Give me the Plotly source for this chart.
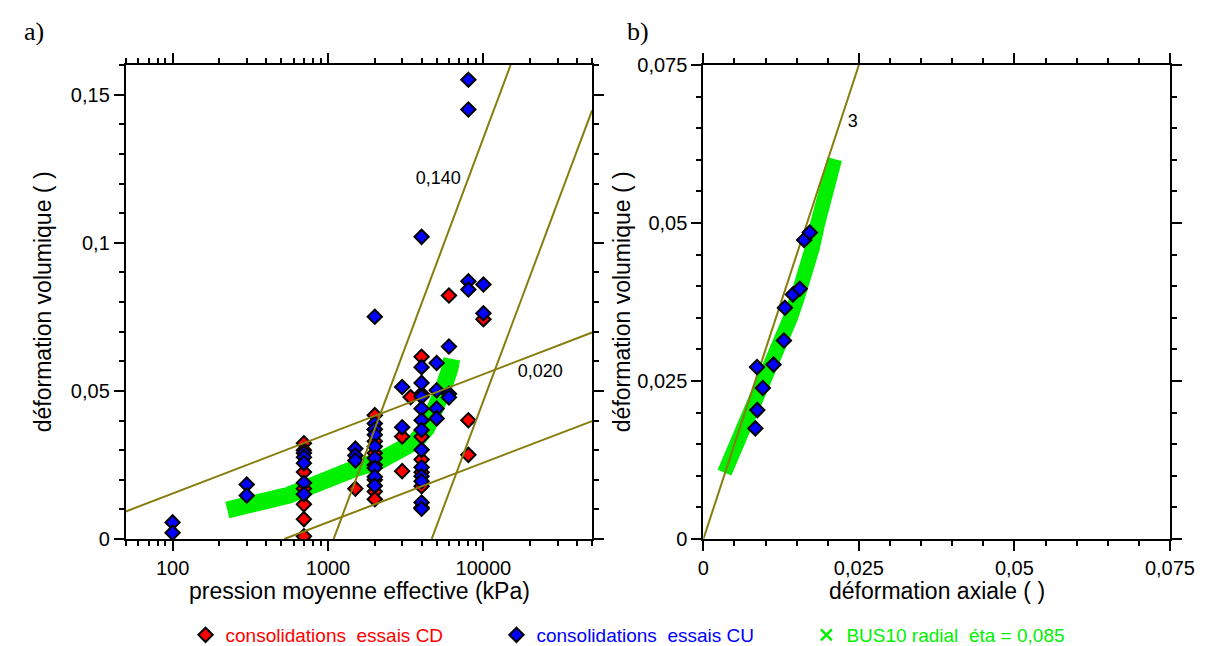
import plotly.graph_objects as go

W, H = 1223, 646
ML, MR, MT, MB = 0, 0, 57, 111
PW, PH = W - ML - MR, H - MT - MB

FONT = "Liberation Sans, Arial, sans-serif"
SERIF = "Liberation Serif, Times New Roman, serif"
RED, BLUE, GREEN, OLIVE = "#ff0000", "#0000ff", "#00f000", "#877d0e"

# ---------------- panel a) data ----------------
cd_p = [700, 700, 700, 700, 700, 700, 700,
        1500,
        2000, 2000, 2000, 2000, 2000, 2000, 2000, 2000,
        3000, 3000, 3400,
        4000, 4000, 4000, 4000, 4000, 4000, 4000,
        6000, 8000, 8000, 10000]
cd_ev = [0.0323, 0.0300, 0.0226, 0.0170, 0.0117, 0.0067, 0.0009,
         0.0170,
         0.0418, 0.0370, 0.0330, 0.0290, 0.0250, 0.0200, 0.0160, 0.0134,
         0.0346, 0.0229, 0.0479,
         0.0615, 0.0490, 0.0345, 0.0268, 0.0225, 0.0178, 0.0106,
         0.0822, 0.0401, 0.0284, 0.0742]

cu_p = [100, 100, 300, 300,
        700, 700, 700, 700, 700,
        1500, 1500, 1500,
        2000, 2000, 2000, 2000, 2000, 2000, 2000, 2000, 2000,
        3000, 3000,
        4000, 4000, 4000, 4000, 4000, 4000, 4000, 4000, 4000, 4000, 4000, 4000, 4000,
        5000, 5000, 5000, 5000,
        6000, 6000, 6000,
        8000, 8000, 8000, 8000,
        10000, 10000]
cu_ev = [0.0056, 0.0021, 0.0184, 0.0147,
         0.0290, 0.0276, 0.0256, 0.0190, 0.0151,
         0.0305, 0.0282, 0.0265,
         0.0750, 0.0390, 0.0370, 0.0352, 0.0312, 0.0273, 0.0240, 0.0210, 0.0180,
         0.0513, 0.0377,
         0.1020, 0.0580, 0.0527, 0.0480, 0.0440, 0.0401, 0.0368, 0.0301, 0.0242, 0.0212, 0.0195, 0.0123, 0.0102,
         0.0594, 0.0502, 0.0440, 0.0407,
         0.0650, 0.0490, 0.0478,
         0.155, 0.145, 0.0870, 0.0842,
         0.0859, 0.0762]

bus_p = [225, 280, 360, 452, 560, 730, 1047, 1460, 2150, 2900, 3640, 4320, 4840, 5420, 6080, 6250]
bus_ev = [0.0098, 0.0108, 0.0120, 0.0130, 0.0148, 0.0173, 0.0210, 0.0236, 0.0264, 0.0295,
          0.0329, 0.0374, 0.0429, 0.0496, 0.0574, 0.0608]

# guide lines (end points read on the frame)
lineA_p, lineA_ev = [1087, 14960], [0.0, 0.16]
lineB_p, lineB_ev = [4645, 50000], [0.0, 0.1447]
lineC_p, lineC_ev = [50, 50000], [0.0093, 0.0697]
lineD_p, lineD_ev = [523, 50000], [0.0, 0.0398]
lab_txt = ["0,140", "0,020"]
lab_p = [5130, 23200]
lab_ev = [0.1214, 0.0563]

# ---------------- panel b) data ----------------
cub_ea = [0.00836, 0.00867, 0.00956, 0.00862, 0.01128, 0.01295, 0.01311, 0.0144, 0.0155, 0.0162, 0.0171]
cub_ev = [0.0175, 0.0204, 0.0239, 0.0272, 0.0276, 0.0314, 0.0366, 0.0387, 0.0396, 0.0473, 0.0485]

busb_ea = [0.0034, 0.0044, 0.0054, 0.0070, 0.0082, 0.0093, 0.0104, 0.0116, 0.0128, 0.0140,
           0.0152, 0.0165, 0.0175, 0.0184, 0.0193, 0.0202, 0.0211]
busb_ev = [0.0105, 0.0127, 0.0149, 0.0186, 0.0212, 0.0237, 0.0264, 0.0290, 0.0317, 0.0350,
           0.0385, 0.0421, 0.0460, 0.0500, 0.0535, 0.0568, 0.0601]

line3_ea, line3_ev = [0.0, 0.025], [0.0, 0.075]
lab3_txt, lab3_ea, lab3_ev = "3", 0.0240, 0.0659

# ticks
xa_tickvals = [100, 1000, 10000]
xa_ticktext = ["100", "1000", "10000"]
xa_minor = [50, 60, 70, 80, 90, 200, 300, 400, 500, 600, 700, 800, 900,
            2000, 3000, 4000, 5000, 6000, 7000, 8000, 9000, 20000, 30000, 40000, 50000]
ya_tickvals = [0, 0.05, 0.1, 0.15]
ya_ticktext = ["0", "0,05", "0,1", "0,15"]
b_tickvals = [0, 0.025, 0.05, 0.075]
b_ticktext = ["0", "0,025", "0,05", "0,075"]


def px_x(x):
    return (x - ML) / PW


def px_y(y):
    return (H - MB - y) / PH


fig = go.Figure()

diamond = dict(symbol="diamond", size=11, line=dict(color="black", width=2))

# panel a
fig.add_trace(go.Scatter(x=bus_p, y=bus_ev, mode="lines", line=dict(color=GREEN, width=17),
                         showlegend=False, xaxis="x", yaxis="y"))
fig.add_trace(go.Scatter(x=cd_p, y=cd_ev, mode="markers", marker=dict(color=RED, **diamond),
                         name="consolidations\u00a0 essais CD", legend="legend", xaxis="x", yaxis="y"))
fig.add_trace(go.Scatter(x=cu_p, y=cu_ev, mode="markers", marker=dict(color=BLUE, **diamond),
                         name="consolidations\u00a0 essais CU", legend="legend2", xaxis="x", yaxis="y"))
for lp, le in [(lineA_p, lineA_ev), (lineB_p, lineB_ev), (lineC_p, lineC_ev), (lineD_p, lineD_ev)]:
    fig.add_trace(go.Scatter(x=lp, y=le, mode="lines", line=dict(color=OLIVE, width=2),
                             showlegend=False, xaxis="x", yaxis="y"))
fig.add_trace(go.Scatter(x=lab_p, y=lab_ev, mode="text", text=lab_txt,
                         textfont=dict(family=FONT, size=18, color="black"),
                         showlegend=False, xaxis="x", yaxis="y"))

# panel b
fig.add_trace(go.Scatter(x=busb_ea, y=busb_ev, mode="lines", line=dict(color=GREEN, width=15),
                         showlegend=False, xaxis="x2", yaxis="y2"))
fig.add_trace(go.Scatter(x=line3_ea, y=line3_ev, mode="lines", line=dict(color=OLIVE, width=2),
                         showlegend=False, xaxis="x2", yaxis="y2"))
fig.add_trace(go.Scatter(x=[lab3_ea], y=[lab3_ev], mode="text", text=[lab3_txt],
                         textfont=dict(family=FONT, size=18, color="black"),
                         showlegend=False, xaxis="x2", yaxis="y2"))
fig.add_trace(go.Scatter(x=cub_ea, y=cub_ev, mode="markers", marker=dict(color=BLUE, **diamond),
                         showlegend=False, xaxis="x2", yaxis="y2"))

# legend-only entry for the BUS10 band
fig.add_trace(go.Scatter(x=[None], y=[None], mode="markers",
                         marker=dict(symbol="x-thin", size=11, line=dict(color=GREEN, width=2.5)),
                         name="BUS10 radial\u00a0 éta = 0,085", legend="legend3", xaxis="x", yaxis="y"))

common = dict(showline=True, linecolor="black", linewidth=2, mirror="ticks", ticks="outside",
              ticklen=10, tickwidth=1.5, tickcolor="black", showgrid=False, zeroline=False,
              tickfont=dict(family=FONT, size=20, color="black"), tickmode="array")


def ann(text, x, y, size=23, family=FONT, angle=0):
    return dict(text=text, x=px_x(x), y=px_y(y), xref="paper", yref="paper", showarrow=False,
                xanchor="center", yanchor="middle", textangle=angle,
                font=dict(family=family, size=size, color="black"))


fig.update_layout(
    width=W, height=H,
    margin=dict(l=ML, r=MR, t=MT, b=MB),
    paper_bgcolor="white", plot_bgcolor="white",
    xaxis=dict(domain=[px_x(114.7), px_x(593.1)], type="log", range=[1.69897, 4.69897],
               tickvals=xa_tickvals, ticktext=xa_ticktext, anchor="y",
               minor=dict(ticks="outside", ticklen=5, tickwidth=1.5, tickcolor="black",
                          tickmode="array", tickvals=xa_minor, showgrid=False),
               **common),
    yaxis=dict(domain=[0, 1], range=[0, 0.16], tickvals=ya_tickvals, ticktext=ya_ticktext, anchor="x",
               minor=dict(ticks="outside", ticklen=5, tickwidth=1.5, tickcolor="black",
                          dtick=0.01, showgrid=False),
               **common),
    xaxis2=dict(domain=[px_x(707.3), px_x(1186)], range=[0, 0.075], tickvals=b_tickvals,
                ticktext=b_ticktext, anchor="y2",
                minor=dict(ticks="outside", ticklen=5, tickwidth=1.5, tickcolor="black",
                           dtick=0.005, showgrid=False),
                **common),
    yaxis2=dict(domain=[0, 1], range=[0, 0.075], tickvals=b_tickvals, ticktext=b_ticktext, anchor="x2",
                minor=dict(ticks="outside", ticklen=5, tickwidth=1.5, tickcolor="black",
                           dtick=0.005, showgrid=False),
                **common),
    legend=dict(x=px_x(176), y=px_y(632), xanchor="left", yanchor="middle", orientation="h",
                font=dict(family=FONT, size=19, color=RED), bgcolor="rgba(0,0,0,0)", itemwidth=30),
    legend2=dict(x=px_x(495), y=px_y(632), xanchor="left", yanchor="middle", orientation="h",
                 font=dict(family=FONT, size=19, color=BLUE), bgcolor="rgba(0,0,0,0)", itemwidth=30),
    legend3=dict(x=px_x(813), y=px_y(632), xanchor="left", yanchor="middle", orientation="h",
                 font=dict(family=FONT, size=19, color=GREEN), bgcolor="rgba(0,0,0,0)", itemwidth=30),
    annotations=[
        ann("a)", 21, 23, size=26, family=SERIF),
        ann("b)", 640, 23, size=26, family=SERIF),
        ann("pression moyenne effective (kPa)", 354, 587),
        ann("déformation axiale ( )", 946.7, 587),
        ann("déformation volumique ( )", 30, 296, angle=-90),
        ann("déformation volumique ( )", 624, 296, angle=-90),
    ],
)

fig.write_html("out.html")
